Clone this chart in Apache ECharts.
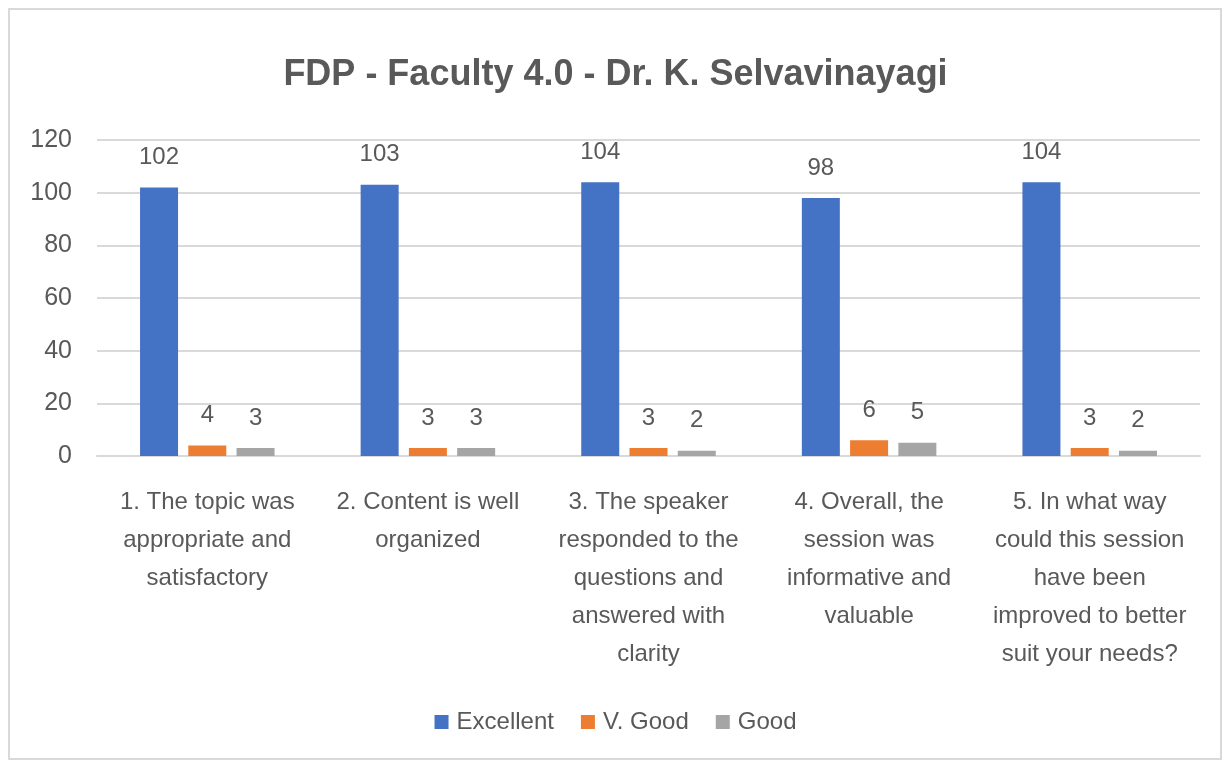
<!DOCTYPE html>
<html><head><meta charset="utf-8">
<script src="https://cdn.jsdelivr.net/npm/echarts@6/dist/echarts.min.js"></script>
<style>html,body{margin:0;padding:0;background:#fff}#c{width:1231px;height:769px}</style>
</head><body><div id="c"></div>
<script>
var categories = [
  "1. The topic was\nappropriate and\nsatisfactory",
  "2. Content is well\norganized",
  "3. The speaker\nresponded to the\nquestions and\nanswered with\nclarity",
  "4. Overall, the\nsession was\ninformative and\nvaluable",
  "5. In what way\ncould this session\nhave been\nimproved to better\nsuit your needs?"
];
var seriesNames = ["Excellent", "V. Good", "Good"];
var excellent = [102, 103, 104, 98, 104];
var vgood = [4, 3, 3, 6, 3];
var good = [3, 3, 2, 5, 2];
var yTicks = [0, 20, 40, 60, 80, 100, 120];

var FONT = '"Liberation Sans", Arial, sans-serif';
var TXT = '#595959';
var chart = echarts.init(document.getElementById('c'), null, {renderer: 'canvas'});
function mk(name, data, color) {
  return {
    name: name, type: 'bar', data: data, barWidth: 38, barGap: '27%',
    itemStyle: {color: color},
    label: {show: true, position: 'top', distance: 18, color: TXT, fontFamily: FONT, fontSize: 24}
  };
}
chart.setOption({
  animation: false,
  backgroundColor: '#fff',
  graphic: [{type: 'rect', shape: {x: 9, y: 9, width: 1212, height: 750},
    style: {fill: 'none', stroke: '#D9D9D9', lineWidth: 2}, silent: true}],
  title: {
    text: 'FDP - Faculty 4.0 - Dr. K. Selvavinayagi', left: 'center', top: 52,
    textStyle: {fontFamily: FONT, fontWeight: 'bold', fontSize: 36, color: TXT}
  },
  legend: {
    data: seriesNames, bottom: 30, left: 'center', itemWidth: 14, itemHeight: 14, itemGap: 27,
    icon: 'rect', textStyle: {fontFamily: FONT, fontSize: 24, color: TXT, padding: [0,0,0,3]}
  },
  grid: {left: 97, right: 31, top: 140, bottom: 313, containLabel: false},
  xAxis: {
    type: 'category', data: categories,
    axisLine: {lineStyle: {color: '#D9D9D9', width: 2}},
    axisTick: {show: false},
    axisLabel: {interval: 0, color: TXT, fontFamily: FONT, fontSize: 24, lineHeight: 38, margin: 27}
  },
  yAxis: {
    type: 'value', min: 0, max: 120, interval: 20,
    axisLine: {show: false}, axisTick: {show: false},
    splitLine: {lineStyle: {color: '#D9D9D9', width: 2}},
    axisLabel: {color: TXT, fontFamily: FONT, fontSize: 25, margin: 25,
      formatter: function (v) { return yTicks.indexOf(v) >= 0 ? String(v) : ''; }}
  },
  series: [mk(seriesNames[0], excellent, '#4472C4'), mk(seriesNames[1], vgood, '#ED7D31'), mk(seriesNames[2], good, '#A5A5A5')]
});
</script></body></html>
